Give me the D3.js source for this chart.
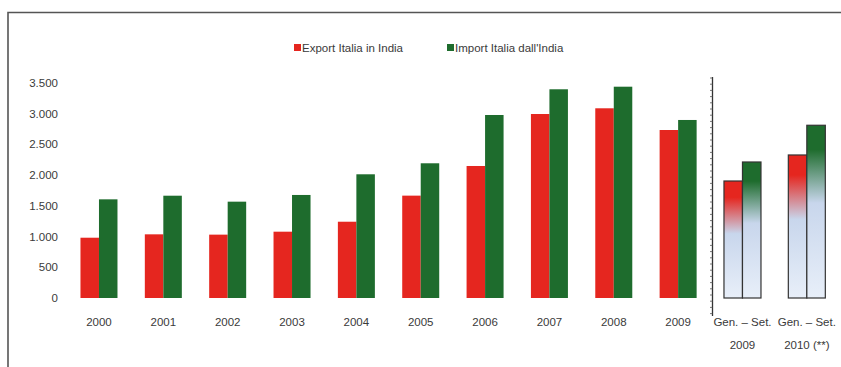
<!DOCTYPE html>
<html lang="en">
<head>
  <meta charset="UTF-8">
  <title>Export / Import Italia - India</title>
  <script src="https://d3js.org/d3.v7.min.js"></script>
  <style>
    body { margin: 0; background: #fff; }
    svg { display: block; }
    text { font-family: "Liberation Sans Narrow", "Arial Narrow", sans-serif; fill: #3a3a3a; font-size: 11.5px; }
  </style>
</head>
<body>
  <svg id="chart" width="841" height="367"></svg>

  <script>
    // data (millions of euro)
    const categories = ["2000", "2001", "2002", "2003", "2004", "2005", "2006", "2007", "2008", "2009", "gs2009", "gs2010"];
    const catLabels = [["2000"], ["2001"], ["2002"], ["2003"], ["2004"], ["2005"], ["2006"], ["2007"], ["2008"], ["2009"],
                       ["Gen. – Set.", "2009"], ["Gen. – Set.", "2010 (**)"]];
    const exportVals = [980, 1035, 1030, 1078, 1240, 1664, 2146, 2991, 3084, 2731, 1902, 2325];
    const importVals = [1604, 1663, 1566, 1675, 2011, 2190, 2975, 3393, 3435, 2894, 2211, 2808];
    const seriesNames = ["Export Italia in India", "Import Italia dall'India"];
    const yTicks = [0, 500, 1000, 1500, 2000, 2500, 3000, 3500];

    const red = "#e5261f", green = "#1e6c2d";
    const svg = d3.select("#chart");

    // frame
    svg.append("path")
      .attr("d", "M8,367 V12.5 H841")
      .attr("fill", "none").attr("stroke", "#555").attr("stroke-width", 1.6);

    const y = d3.scaleLinear().domain([0, 3500]).range([298, 82.7]);
    const x = d3.scaleBand().domain(categories).range([66.8, 839]).paddingInner(0.425).paddingOuter(0.2125);
    const x1 = d3.scaleBand().domain([0, 1]).range([0, x.bandwidth()]);

    // gradients for the partial-year bars
    const defs = svg.append("defs");
    [["gRed", red], ["gGreen", green]].forEach(([id, c]) => {
      const g = defs.append("linearGradient").attr("id", id).attr("x1", 0).attr("y1", 0).attr("x2", 0).attr("y2", 1);
      g.append("stop").attr("offset", "0").attr("stop-color", c);
      g.append("stop").attr("offset", "0.14").attr("stop-color", c);
      g.append("stop").attr("offset", "0.45").attr("stop-color", "#c8d6ec");
      g.append("stop").attr("offset", "1").attr("stop-color", "#e8eff9");
    });

    // y axis labels (no line)
    const yAxis = svg.append("g").attr("transform", "translate(58,0)")
      .call(d3.axisLeft(y).tickValues(yTicks).tickSize(0).tickPadding(0)
        .tickFormat(d => d3.format(",")(d).replace(/,/g, ".")));
    yAxis.select(".domain").remove();
    yAxis.selectAll("text").style("font-family", null).style("font-size", null).attr("fill", null);
    yAxis.attr("font-family", null).attr("font-size", null);

    // bars
    const groups = svg.append("g").selectAll("g").data(categories).join("g")
      .attr("transform", d => `translate(${x(d)},0)`);

    groups.each(function(d, i) {
      const g = d3.select(this);
      const partial = i >= 10;
      [exportVals[i], importVals[i]].forEach((v, s) => {
        g.append("rect")
          .attr("x", x1(s)).attr("width", x1.bandwidth())
          .attr("y", y(v)).attr("height", y(0) - y(v))
          .attr("fill", partial ? (s === 0 ? "url(#gRed)" : "url(#gGreen)") : (s === 0 ? red : green))
          .attr("stroke", partial ? "#333" : "none")
          .attr("stroke-width", 1.2);
      });
    });

    // category labels
    const xl = svg.append("g");
    categories.forEach((c, i) => {
      const t = xl.append("text").attr("text-anchor", "middle")
        .attr("x", x(c) + x.bandwidth() / 2).attr("y", 326);
      catLabels[i].forEach((line, k) => {
        t.append("tspan").attr("x", x(c) + x.bandwidth() / 2).attr("dy", k === 0 ? 0 : 23).text(line);
      });
    });

    // separator axis before the partial-year bars
    const sepX = 712.5;
    svg.append("line").attr("x1", sepX).attr("x2", sepX).attr("y1", 77).attr("y2", 316)
      .attr("stroke", "#333").attr("stroke-width", 1.3);
    svg.append("g").selectAll("line").data(d3.range(78, 316, 6.2)).join("line")
      .attr("x1", sepX - 2.5).attr("x2", sepX).attr("y1", d => d).attr("y2", d => d)
      .attr("stroke", "#555").attr("stroke-width", 0.8);

    // legend
    const legend = svg.append("g").attr("transform", "translate(294,48)");
    const lx = [0, 153];
    seriesNames.forEach((n, i) => {
      legend.append("rect").attr("x", lx[i]).attr("y", -4).attr("width", 7).attr("height", 7)
        .attr("fill", i === 0 ? red : green);
      legend.append("text").attr("x", lx[i] + 8).attr("y", 4).text(n);
    });
  </script>
</body>
</html>
